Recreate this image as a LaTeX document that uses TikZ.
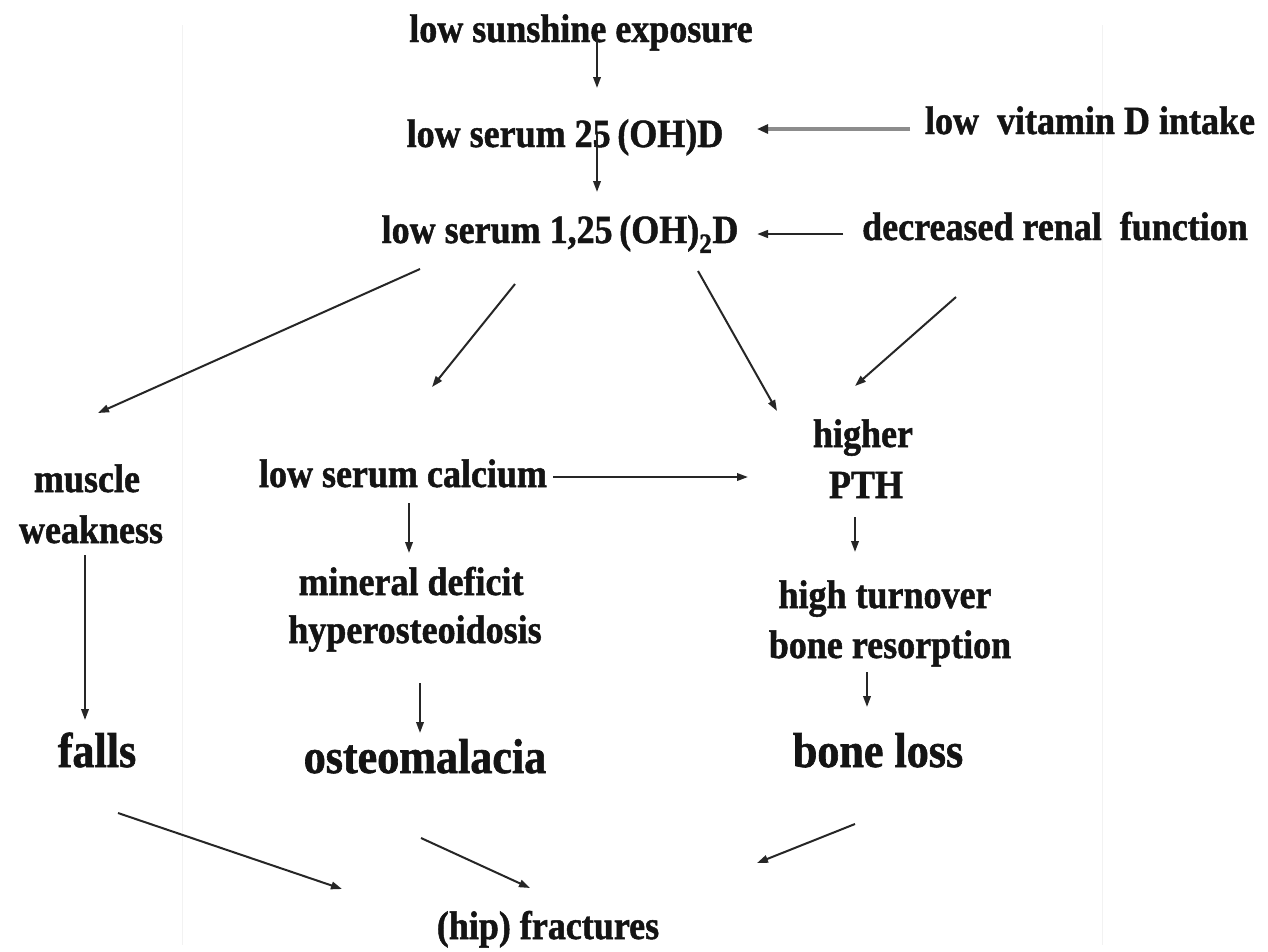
\documentclass[tikz,border=0pt]{standalone}
\usepackage{fontspec}
\setmainfont{Liberation Serif}[FakeStretch=0.9, BoldFeatures={FakeBold=1.2}]
\usetikzlibrary{arrows.meta}
\tikzset{
  lbl/.style={inner sep=0pt, anchor=base, text=black!92, font=\fontsize{40}{44}\selectfont\bfseries},
  big/.style={inner sep=0pt, anchor=base, text=black!92, font=\fontsize{49}{54}\selectfont\bfseries},
  arr/.style={line width=2pt, draw=black!85, -{Triangle[length=11pt,width=7.5pt]}},
  grayarr/.style={line width=4.5pt, draw=black!45, -{Triangle[length=11pt,width=9pt,color=black!85,fill=black!85]}},
  artifact/.style={line width=0.8pt, draw=black!5}
}
\begin{document}
\begin{tikzpicture}[x=1pt,y=-1pt]
\useasboundingbox[fill=white] (0,0) rectangle (1268,951);
\draw[artifact] (182,25) -- (182,945);
\draw[artifact] (1102,25) -- (1102,945);
% nodes
\node[lbl] (sun) at (581,42) {low sunshine exposure};
\node[lbl] (s25) at (565,147) {low serum 25\,(OH)D};
\node[lbl] (s125) at (560,243) {low serum 1,25\,(OH)\textsubscript{2}D};
\node[lbl] (intake) at (1090,134) {low\ \ vitamin D intake};
\node[lbl] (renal) at (1055,240) {decreased renal\ \ function};
\node[lbl] (muscle) at (87,492) {muscle};
\node[lbl] (weak) at (91,543) {weakness};
\node[lbl] (calcium) at (403,487) {low serum calcium};
\node[lbl] (higher) at (863,447) {higher};
\node[lbl] (pth) at (866,498) {PTH};
\node[lbl] (mineral) at (411,595) {mineral deficit};
\node[lbl] (hyper) at (415,643) {hyperosteoidosis};
\node[lbl] (turnover) at (885,608) {high turnover};
\node[lbl] (resorption) at (890,658) {bone resorption};
\node[big] (falls) at (97,767) {falls};
\node[big] (osteo) at (425,773) {osteomalacia};
\node[big] (boneloss) at (878,767) {bone loss};
\node[lbl] (hip) at (548,939) {(hip) fractures};
% connectors
\draw[arr] ([shift={(16,-9)}]sun.base) -- ([shift={(32,-59)}]s25.base);
\draw[arr] ([shift={(32,-14)}]s25.base) -- ([shift={(37,-51)}]s125.base);
\draw[grayarr] ([shift={(-180,-5)}]intake.base) -- ([shift={(192,-18)}]s25.base);
\draw[arr, line width=2.5pt] ([shift={(-212,-6)}]renal.base) -- ([shift={(197,-9)}]s125.base);
\draw[arr] ([shift={(-140,26)}]s125.base) -- ([shift={(11,-79)}]muscle.base);
\draw[arr] ([shift={(-45,41)}]s125.base) -- ([shift={(29,-100)}]calcium.base);
\draw[arr] ([shift={(138,28)}]s125.base) -- ([shift={(-86,-36)}]higher.base);
\draw[arr] ([shift={(-99,57)}]renal.base) -- ([shift={(-8,-61)}]higher.base);
\draw[arr] ([shift={(150,-10)}]calcium.base) -- ([shift={(-118,-21)}]pth.base);
\draw[arr] ([shift={(-6,12)}]weak.base) -- ([shift={(-12,-47)}]falls.base);
\draw[arr] ([shift={(6,16)}]calcium.base) -- ([shift={(-2,-42)}]mineral.base);
\draw[arr] ([shift={(5,40)}]hyper.base) -- ([shift={(-5,-40)}]osteo.base);
\draw[arr] ([shift={(-11,19)}]pth.base) -- ([shift={(-30,-56)}]turnover.base);
\draw[arr] ([shift={(-23,14)}]resorption.base) -- ([shift={(-11,-60)}]boneloss.base);
\draw[arr] ([shift={(21,46)}]falls.base) -- ([shift={(-206,-50)}]hip.base);
\draw[arr] ([shift={(-4,65)}]osteo.base) -- ([shift={(-18,-51)}]hip.base);
\draw[arr] ([shift={(-23,57)}]boneloss.base) -- ([shift={(209,-76)}]hip.base);
\end{tikzpicture}
\end{document}
